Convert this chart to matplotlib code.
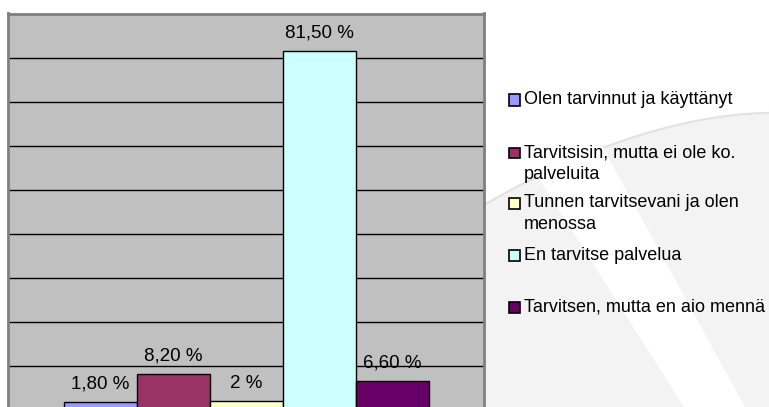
import numpy as np
import matplotlib
matplotlib.use("Agg")
from matplotlib import pyplot as plt
from matplotlib.patches import Rectangle, Polygon

# data
series = ["Olen tarvinnut ja käyttänyt",
          "Tarvitsisin, mutta ei ole ko.\npalveluita",
          "Tunnen tarvitsevani ja olen\nmenossa",
          "En tarvitse palvelua",
          "Tarvitsen, mutta en aio mennä"]
values = [1.8, 8.2, 2.0, 81.5, 6.6]
value_labels = ["1,80 %", "8,20 %", "2 %", "81,50 %", "6,60 %"]
colors = ["#9999FF", "#993366", "#FFFFCC", "#CCFFFF", "#660066"]

W, H = 769, 407
plt.rcParams['font.family'] = ['Liberation Sans', 'DejaVu Sans']
fig = plt.figure(figsize=(W / 100, H / 100), dpi=100)
fig.patch.set_facecolor("white")


def px(x, y):
    # pixel (from top-left) -> figure fraction
    return (x / W, 1 - y / H)


# faint watermark swoosh behind the legend
arc_x = np.linspace(484, 769, 40)
arc_y = 113 + 92 * ((769 - arc_x) / 285) ** 1.8
shade = [px(x, y) for x, y in zip(arc_x, arc_y)] + [px(769, 407), px(484, 407)]
fig.add_artist(Polygon(shade, closed=True, facecolor="#f3f3f3", edgecolor="none", zorder=0))
fig.add_artist(plt.Line2D([p[0] for p in shade[:-2]], [p[1] for p in shade[:-2]],
                          color="#e2e2e2", lw=1.5, zorder=0))
band = [px(522, 152), px(590, 124), px(745, 407), px(684, 407)]
fig.add_artist(Polygon(band, closed=True, facecolor="white", edgecolor="none", zorder=0))

# plot area: 0 line sits just below the picture edge
ax_l, ax_r, ax_t, ax_b = 8, 484, 13.5, 410
ax = fig.add_axes([ax_l / W, (H - ax_b) / H, (ax_r - ax_l) / W, (ax_b - ax_t) / H])
ax.set_facecolor("#C0C0C0")

bar_w = 1.0
n = len(values)
xs = np.arange(n) - (n - 1) / 2
half = (ax_r - ax_l) / 73.0 / 2
ax.set_xlim(-half, half)
ax.set_ylim(0, 90)
ax.set_yticks(np.arange(10, 90, 10))
ax.yaxis.grid(True, color="black", lw=1.0)
ax.set_axisbelow(True)
ax.tick_params(left=False, bottom=False, labelleft=False, labelbottom=False)
for s in ["top", "left", "right"]:
    ax.spines[s].set_color("#808080")
    ax.spines[s].set_linewidth(2)
ax.spines["bottom"].set_visible(False)

bars = ax.bar(xs, values, width=bar_w, color=colors, edgecolor="black", linewidth=1.0, zorder=3)
for b, lab in zip(bars, value_labels):
    ax.annotate(lab, (b.get_x() + b.get_width() / 2, b.get_height()),
                xytext=(0, 13), textcoords="offset points",
                ha="center", va="center", fontsize=13.5, color="black", zorder=4)

# legend
leg_y = [100, 153, 203, 255, 307]
for name, c, y in zip(series, colors, leg_y):
    x0, y0 = px(509, y + 5.5)
    fig.add_artist(Rectangle((x0, y0), 11 / W, 11 / H, facecolor=c,
                             edgecolor="black", lw=1.2, zorder=5))
    if "\n" in name:
        tx, ty = px(524, y - 9)
        va = "top"
    else:
        tx, ty = px(524, y)
        va = "center"
    fig.text(tx, ty, name, ha="left", va=va,
             fontsize=13, linespacing=1.42, color="black", zorder=5)

plt.savefig("out.png", dpi=100)
